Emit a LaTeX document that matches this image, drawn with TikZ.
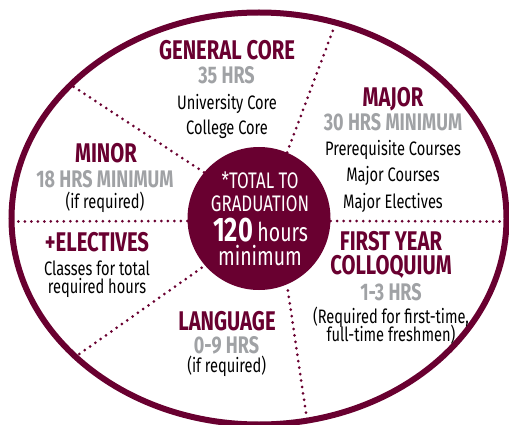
\documentclass[tikz,border=0pt]{standalone}
\usepackage{fontspec}
\setmainfont[FakeStretch=0.75]{Fira Sans}
\definecolor{maroon}{RGB}{105,0,48}
\definecolor{hrsgray}{RGB}{160,162,165}
\tikzset{
  heading/.style  = {anchor=base, inner sep=0pt, text=maroon,
                     font=\bfseries\fontsize{27}{23.4}\selectfont},
  hours/.style    = {anchor=base, inner sep=0pt, text=hrsgray,
                     font=\bfseries\fontsize{24}{24}\selectfont},
  course/.style   = {anchor=base, inner sep=0pt, text=black,
                     font=\fontsize{19.5}{19.5}\selectfont},
  totaltext/.style= {anchor=base, inner sep=0pt, text=white,
                     font=\fontsize{22.5}{22.5}\selectfont},
  divider/.style  = {draw=maroon, line width=3pt, line cap=round,
                     dash pattern=on 0pt off 6.5pt}
}

\begin{document}
\begin{tikzpicture}[x=1pt, y=-1pt]
  \useasboundingbox (0,0) rectangle (509,425);
  % outer ring
  \draw[maroon, line width=6pt] (259,218.5) ellipse [x radius=247.5, y radius=206];
  \node[circle, fill=maroon, minimum size=143pt, inner sep=0pt] (total) at (259,218.5) {};

  % where the dividers meet the ring
  \coordinate (left-end)   at (11.5,221.5);
  \coordinate (right-end)  at (506.5,221.5);
  \coordinate (ul-end)     at (71,85);
  \coordinate (tr-end)     at (335,25);
  \coordinate (ll-end)     at (78,355);
  \coordinate (bot-end)    at (307,420);

  \draw[divider] (total.182) -- (left-end);
  \draw[divider] (total.-2) -- (right-end);
  \draw[divider] (total.140) -- (ul-end);
  \draw[divider] (total.67) -- (tr-end);
  \draw[divider, shorten <=4pt] (total.221) -- (ll-end);
  \draw[divider, shorten <=6pt] (total.293) -- (bot-end);

  % centre
  \node[totaltext] (total-1) at (260,188.3) {*TOTAL TO};
  \node[totaltext] (total-2) at (260,211.7) {GRADUATION};
  \node[totaltext] (total-3) at (260.5,241.7)
    {{\bfseries\fontsize{34}{34}\selectfont 120} {\fontsize{26}{26}\selectfont hours}};
  \node[totaltext, font=\fontsize{26}{26}\selectfont] (total-4) at (260,265.5) {minimum};

  % general core
  \node[heading] (gen-1) at (227,60)    {GENERAL CORE};
  \node[hours]   (gen-2) at (226.5,83.3) {35 HRS};
  \node[course]  (gen-3) at (227,110)   {University Core};
  \node[course]  (gen-4) at (227,135)   {College Core};

  % major
  \node[heading] (maj-1) at (393,106.7) {MAJOR};
  \node[hours]   (maj-2) at (393,131)   {30 HRS MINIMUM};
  \node[course]  (maj-3) at (393,156)   {Prerequisite Courses};
  \node[course]  (maj-4) at (393,181.7) {Major Courses};
  \node[course]  (maj-5) at (393,208.3) {Major Electives};

  % minor
  \node[heading] (min-1) at (106,162.7) {MINOR};
  \node[hours]   (min-2) at (105,187.3) {18 HRS MINIMUM};
  \node[course]  (min-3) at (105,208)   {(if required)};

  % electives
  \node[heading] (ele-1) at (97,251.7)  {+ELECTIVES};
  \node[course]  (ele-2) at (97,275)    {Classes for total};
  \node[course]  (ele-3) at (97,293.3)  {required hours};

  % first year colloquium
  \node[heading, align=center, anchor=south] (fyc-1) at (391,278.5)
    {FIRST YEAR\\COLLOQUIUM};
  \node[hours]   (fyc-3) at (391,300.7) {1-3 HRS};
  \node[course]  (fyc-4) at (391,323.3) {(Required for first-time,};
  \node[course]  (fyc-5) at (391,341.7) {full-time freshmen)};

  % language
  \node[heading] (lan-1) at (227,330)   {LANGUAGE};
  \node[hours]   (lan-2) at (226.5,353.3) {0-9 HRS};
  \node[course]  (lan-3) at (226.7,372.3) {(if required)};
\end{tikzpicture}
\end{document}
